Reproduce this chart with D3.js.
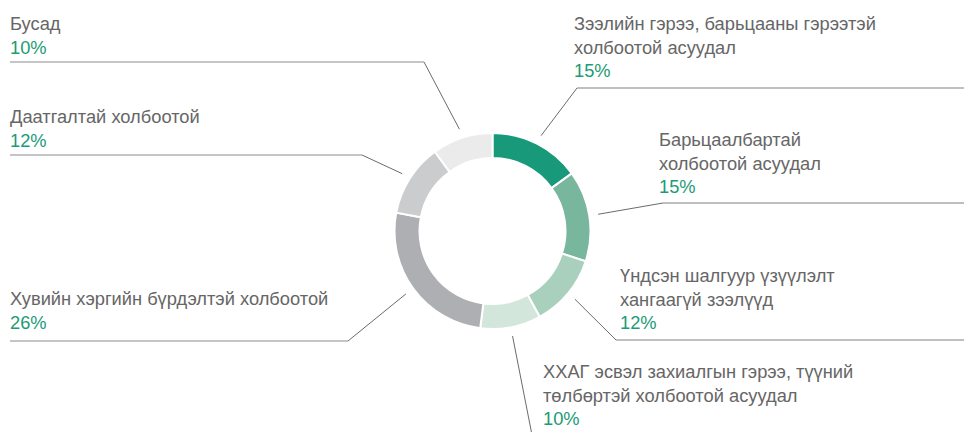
<!DOCTYPE html>
<html>
<head>
<meta charset="utf-8">
<script src="https://cdn.jsdelivr.net/npm/d3@7"></script>
<style>
  html, body { margin: 0; padding: 0; background: #fff; }
  svg { display: block; font-family: "Liberation Sans", Arial, sans-serif; }
</style>
</head>
<body>
<div id="chart"></div>
<script>
// categories (clockwise from 12 o'clock), each label split into lines
const categories = [
    ['Зээлийн гэрээ, барьцааны гэрээтэй', 'холбоотой асуудал'],
    ['Барьцаалбартай', 'холбоотой асуудал'],
    ['Үндсэн шалгуур үзүүлэлт', 'хангаагүй зээлүүд'],
    ['ХХАГ эсвэл захиалгын гэрээ, түүний', 'төлбөртэй холбоотой асуудал'],
    ['Хувийн хэргийн бүрдэлтэй холбоотой'],
    ['Даатгалтай холбоотой'],
    ['Бусад']
];
const values = [15, 15, 12, 10, 26, 12, 10];
const colors = ['#17997a', '#78b69e', '#a9cfbd', '#d3e6dc', '#aeafb2', '#cbcccd', '#ebebeb'];

// label placement: elbow point of the leader, text anchor, where the rule ends
const labelLayout = [
    { elbow: [577, 88],  textX: 574, textY: 30,  end: 964 },
    { elbow: [663, 203], textX: 659, textY: 146, end: 964 },
    { elbow: [616, 340], textX: 620, textY: 282, end: 964 },
    { elbow: [533, 440], textX: 543, textY: 378, end: 964 },
    { elbow: [348, 341], textX: 10,  textY: 305, end: 10 },
    { elbow: [362, 155], textX: 10,  textY: 123, end: 10 },
    { elbow: [424, 62],  textX: 10,  textY: 30,  end: 10 }
];

const width = 964, height = 432;
const cx = 492.5, cy = 231;
const outerR = 98, innerR = 73, leaderR = 107;
const lineH = 23.5;
const fontSize = 18.3;

const svg = d3.select('#chart')
    .append('svg')
    .attr('width', width)
    .attr('height', height);

const g = svg.append('g').attr('transform', `translate(${cx},${cy})`);

const pie = d3.pie().sort(null).value(d => d);
const arcs = pie(values);

const arc = d3.arc().innerRadius(innerR).outerRadius(outerR);

g.selectAll('path.slice')
    .data(arcs)
    .enter()
    .append('path')
    .attr('class', 'slice')
    .attr('d', arc)
    .attr('fill', (d, i) => colors[i])
    .attr('stroke', '#fff')
    .attr('stroke-width', 2);

// leaders + labels
arcs.forEach((d, i) => {
    const lay = labelLayout[i];
    const mid = (d.startAngle + d.endAngle) / 2;
    const sx = cx + Math.sin(mid) * leaderR;
    const sy = cy - Math.cos(mid) * leaderR;
    const [ex, ey] = lay.elbow;

    svg.append('line')
        .attr('x1', sx).attr('y1', sy)
        .attr('x2', ex).attr('y2', ey)
        .attr('stroke', '#6b6b6b')
        .attr('stroke-width', 1);

    svg.append('line')
        .attr('x1', ex).attr('y1', ey)
        .attr('x2', lay.end).attr('y2', ey)
        .attr('stroke', lay.end > ex ? '#aaaaaa' : '#8c8c8c')
        .attr('stroke-width', lay.end > ex ? 1.6 : 1.2);

    const lines = categories[i];
    const t = svg.append('g');
    lines.forEach((txt, k) => {
        t.append('text')
            .attr('x', lay.textX)
            .attr('y', lay.textY + k * lineH)
            .attr('fill', '#666666')
            .attr('font-size', fontSize)
            .text(txt);
    });
    t.append('text')
        .attr('x', lay.textX)
        .attr('y', lay.textY + lines.length * lineH)
        .attr('fill', '#1c9b76')
        .attr('font-size', fontSize)
        .text(values[i] + '%');
});
</script>
</body>
</html>
